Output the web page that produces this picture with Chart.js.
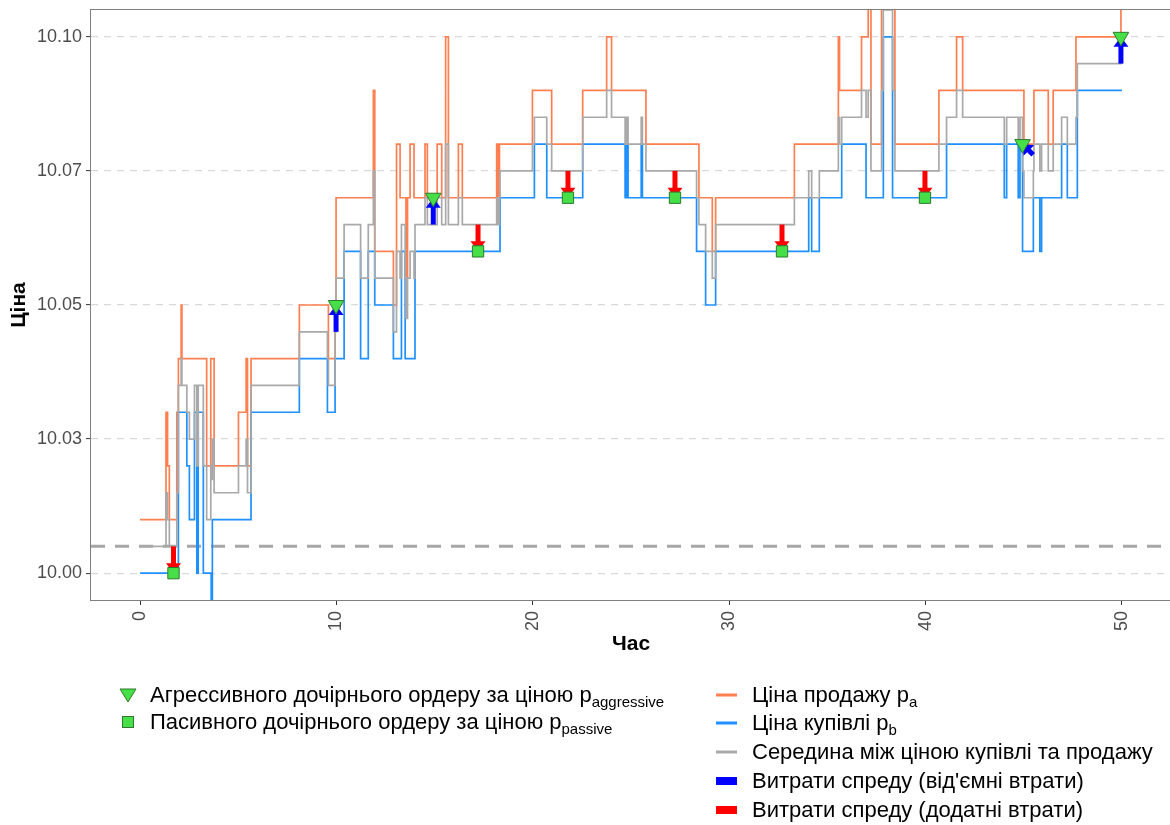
<!DOCTYPE html>
<html>
<head>
<meta charset="utf-8">
<script src="https://cdn.jsdelivr.net/npm/chart.js@4"></script>
<style>
  html, body { margin: 0; padding: 0; background: #ffffff; width: 1170px; height: 825px; overflow: hidden; }
  #wrap { position: relative; width: 1170px; height: 825px; overflow: hidden; }
  #chart { position: absolute; left: 0; top: 0; }
  .row { position: absolute; height: 26px; display: flex; align-items: center; white-space: nowrap;
         font-family: "Liberation Sans", Arial, sans-serif; font-size: 22px; color: #000000; }
  .row svg { flex: none; }
  .row sub { font-size: 15px; vertical-align: -5px; line-height: 0; }
</style>
</head>
<body>
<div id="wrap">
  <canvas id="chart" width="1175" height="825"></canvas>

  <div class="row" style="left:116px; top:682px;">
    <svg width="24" height="26"><polygon points="4,7 20,7 12,20" fill="#47df47" stroke="#2e7a2e" stroke-width="1"/></svg>
    <span style="margin-left:10px;">Агрессивного дочірнього ордеру за ціною p<sub>aggressive</sub></span>
  </div>
  <div class="row" style="left:116px; top:709px;">
    <svg width="24" height="26"><rect x="6.5" y="7.5" width="11" height="11" fill="#47df47" stroke="#2e7a2e" stroke-width="1"/></svg>
    <span style="margin-left:10px;">Пасивного дочірнього ордеру за ціною p<sub>passive</sub></span>
  </div>

  <div class="row" style="left:714px; top:682px;">
    <svg width="26" height="26"><rect x="2" y="11.5" width="21" height="3" fill="#ff7f50"/></svg>
    <span style="margin-left:12px;">Ціна продажу p<sub>a</sub></span>
  </div>
  <div class="row" style="left:714px; top:710px;">
    <svg width="26" height="26"><rect x="2" y="11.5" width="21" height="3" fill="#1e90ff"/></svg>
    <span style="margin-left:12px;">Ціна купівлі p<sub>b</sub></span>
  </div>
  <div class="row" style="left:714px; top:739px;">
    <svg width="26" height="26"><rect x="2" y="11.5" width="21" height="3" fill="#a9a9a9"/></svg>
    <span style="margin-left:12px;">Середина між ціною купівлі та продажу</span>
  </div>
  <div class="row" style="left:714px; top:768px;">
    <svg width="26" height="26"><rect x="2" y="9" width="21" height="8" fill="#0000ff"/></svg>
    <span style="margin-left:12px;">Витрати спреду (від'ємні втрати)</span>
  </div>
  <div class="row" style="left:714px; top:797px;">
    <svg width="26" height="26"><rect x="2" y="9" width="21" height="8" fill="#ff0000"/></svg>
    <span style="margin-left:12px;">Витрати спреду (додатні втрати)</span>
  </div>
</div>

<script>
// Quote updates: each price holds from its time until the next update.
const quoteTime = [
  0.00, 1.32, 1.40, 1.49, 1.87, 1.95, 2.09, 2.13, 2.38, 2.51,
  2.77, 2.89, 2.96, 3.22, 3.39, 3.60, 3.62, 3.68, 3.77, 5.01,
  5.40, 5.47, 5.65, 8.11, 9.54, 9.59, 9.93, 9.98, 10.39, 11.23,
  11.62, 11.88, 11.95, 12.90, 13.06, 13.24, 13.31, 13.50, 13.54, 13.62,
  13.75, 13.95, 14.00, 14.51, 14.63, 15.13, 15.36, 15.56, 15.70, 16.21,
  16.41, 18.16, 18.24, 18.30, 18.33, 19.98, 20.08, 20.71, 20.96, 22.54,
  23.76, 24.01, 24.70, 24.78, 24.85, 25.52, 25.58, 25.76, 28.34, 28.46,
  28.80, 29.14, 29.31, 33.32, 34.05, 34.20, 34.59, 35.56, 35.62, 35.73,
  36.74, 36.97, 37.08, 37.22, 37.76, 37.85, 38.32, 38.44, 40.68, 41.07,
  41.58, 41.89, 44.01, 44.13, 44.72, 44.81, 44.94, 45.01, 45.49, 45.52,
  45.82, 45.91, 46.25, 46.50, 46.93, 47.22, 47.66, 47.73, 49.95, 50.00
];

const askPrice = [
  10.010, 10.030, 10.020, 10.010, 10.030, 10.040, 10.050, 10.040, 10.040, 10.040,
  10.040, 10.040, 10.040, 10.040, 10.020, 10.040, 10.040, 10.040, 10.020, 10.030,
  10.040, 10.020, 10.040, 10.050, 10.050, 10.040, 10.050, 10.070, 10.070, 10.070,
  10.070, 10.090, 10.060, 10.050, 10.080, 10.070, 10.070, 10.070, 10.055, 10.070,
  10.080, 10.070, 10.070, 10.080, 10.070, 10.080, 10.070, 10.100, 10.070, 10.080,
  10.070, 10.080, 10.070, 10.080, 10.080, 10.090, 10.090, 10.090, 10.080, 10.090,
  10.100, 10.090, 10.090, 10.090, 10.090, 10.090, 10.090, 10.080, 10.080, 10.070,
  10.070, 10.060, 10.070, 10.080, 10.080, 10.080, 10.080, 10.100, 10.090, 10.090,
  10.100, 10.100, 10.110, 10.080, 10.110, 10.110, 10.110, 10.080, 10.090, 10.090,
  10.100, 10.090, 10.090, 10.090, 10.090, 10.090, 10.090, 10.080, 10.080, 10.090,
  10.090, 10.090, 10.080, 10.090, 10.090, 10.090, 10.100, 10.100, 10.110, 10.110
];

const bidPrice = [
  10.000, 10.000, 10.000, 10.000, 10.000, 10.030, 10.030, 10.030, 10.020, 10.010,
  10.030, 10.000, 10.030, 10.000, 10.000, 10.000, 9.995, 10.010, 10.010, 10.010,
  10.010, 10.010, 10.030, 10.040, 10.030, 10.030, 10.040, 10.040, 10.060, 10.040,
  10.060, 10.060, 10.050, 10.040, 10.040, 10.040, 10.060, 10.040, 10.040, 10.040,
  10.040, 10.040, 10.060, 10.060, 10.060, 10.060, 10.060, 10.060, 10.060, 10.060,
  10.060, 10.060, 10.060, 10.060, 10.070, 10.070, 10.080, 10.070, 10.070, 10.080,
  10.080, 10.080, 10.070, 10.080, 10.070, 10.080, 10.070, 10.070, 10.060, 10.060,
  10.050, 10.050, 10.060, 10.060, 10.070, 10.060, 10.070, 10.070, 10.070, 10.080,
  10.080, 10.070, 10.070, 10.070, 10.070, 10.100, 10.070, 10.070, 10.070, 10.080,
  10.080, 10.080, 10.070, 10.080, 10.070, 10.080, 10.060, 10.060, 10.070, 10.070,
  10.060, 10.070, 10.070, 10.070, 10.080, 10.070, 10.070, 10.090, 10.090, 10.090
];

const midPrice = [
  10.005, 10.015, 10.010, 10.005, 10.015, 10.035, 10.040, 10.035, 10.030, 10.025,
  10.035, 10.020, 10.035, 10.020, 10.010, 10.020, 10.0175, 10.025, 10.015, 10.020,
  10.025, 10.015, 10.035, 10.045, 10.040, 10.035, 10.045, 10.055, 10.065, 10.055,
  10.065, 10.075, 10.055, 10.045, 10.060, 10.055, 10.065, 10.055, 10.0475, 10.055,
  10.060, 10.055, 10.065, 10.070, 10.065, 10.070, 10.065, 10.080, 10.065, 10.070,
  10.065, 10.070, 10.065, 10.070, 10.075, 10.080, 10.085, 10.080, 10.075, 10.085,
  10.090, 10.085, 10.080, 10.085, 10.080, 10.085, 10.080, 10.075, 10.070, 10.065,
  10.060, 10.055, 10.065, 10.070, 10.075, 10.070, 10.075, 10.085, 10.080, 10.085,
  10.090, 10.085, 10.090, 10.075, 10.090, 10.105, 10.090, 10.075, 10.080, 10.085,
  10.090, 10.085, 10.080, 10.085, 10.080, 10.085, 10.075, 10.070, 10.075, 10.080,
  10.075, 10.080, 10.075, 10.080, 10.085, 10.080, 10.085, 10.095, 10.100, 10.100
];

// Mid price at the start of the session (reference line)
const openingMid = 10.005;

// Aggressive child orders: fill price and the mid price the cost is measured from
const aggressiveTime = [9.98, 14.93, 44.94, 49.95];
const aggressivePrice = [10.050, 10.070, 10.080, 10.100];
const aggressiveMidTime = [9.98, 14.93, 45.48, 49.95];
const aggressiveMid = [10.045, 10.065, 10.078, 10.095];

// Passive child orders
const passiveTime = [1.70, 17.21, 21.79, 27.24, 32.69, 39.97];
const passivePrice = [10.000, 10.060, 10.070, 10.070, 10.060, 10.070];
const passiveMid = [10.005, 10.065, 10.075, 10.075, 10.065, 10.075];

// Axis ticks
const xTicks = [0, 10, 20, 30, 40, 50];
const yTicks = [10.000, 10.025, 10.050, 10.075, 10.100];
const yTickLabels = ['10.00', '10.03', '10.05', '10.07', '10.10'];

const X_MIN = -2.5, X_MAX = 52.5, Y_MIN = 9.995, Y_MAX = 10.105;
const FONT = '"Liberation Sans", Arial, sans-serif';

const series = (xs, ys) => xs.map((x, i) => ({ x: x, y: ys[i] }));

function drawArrow(ctx, x0, y0, x1, y1, color) {
  const dx = x1 - x0, dy = y1 - y0;
  const len = Math.hypot(dx, dy);
  if (len < 0.5) return;
  const ux = dx / len, uy = dy / len;
  const head = Math.min(10, len * 0.6);
  const half = 7.5;
  const bx = x1 - ux * head, by = y1 - uy * head;
  ctx.strokeStyle = color;
  ctx.fillStyle = color;
  ctx.lineWidth = 5;
  ctx.lineCap = 'butt';
  ctx.beginPath();
  ctx.moveTo(x0, y0);
  ctx.lineTo(bx + ux * 1, by + uy * 1);
  ctx.stroke();
  ctx.beginPath();
  ctx.moveTo(x1, y1);
  ctx.lineTo(bx - uy * half, by + ux * half);
  ctx.lineTo(bx + uy * half, by - ux * half);
  ctx.closePath();
  ctx.fill();
}

// Spread-cost arrows from the mid price to the fill price, drawn under the order markers
const spreadCostArrows = {
  id: 'spreadCostArrows',
  beforeDatasetDraw(chart, args) {
    if (args.index !== 1) return;
    const { ctx, chartArea: a, scales: { x, y } } = chart;
    ctx.save();
    ctx.beginPath();
    ctx.rect(a.left, a.top, a.right - a.left, a.bottom - a.top);
    ctx.clip();
    passiveTime.forEach((t, i) => {
      const color = passivePrice[i] < passiveMid[i] ? '#ff0000' : '#0000ff';
      drawArrow(ctx, x.getPixelForValue(t), y.getPixelForValue(passiveMid[i]),
                x.getPixelForValue(t), y.getPixelForValue(passivePrice[i]), color);
    });
    aggressiveTime.forEach((t, i) => {
      const color = aggressivePrice[i] < aggressiveMid[i] ? '#ff0000' : '#0000ff';
      drawArrow(ctx, x.getPixelForValue(aggressiveMidTime[i]), y.getPixelForValue(aggressiveMid[i]),
                x.getPixelForValue(t), y.getPixelForValue(aggressivePrice[i]), color);
    });
    ctx.restore();
  }
};

// Grey frame around the plotting panel
const panelFrame = {
  id: 'panelFrame',
  afterDatasetsDraw(chart) {
    const { ctx, chartArea: a } = chart;
    ctx.save();
    ctx.strokeStyle = '#7f7f7f';
    ctx.lineWidth = 1;
    ctx.strokeRect(Math.round(a.left) - 0.5, Math.round(a.top) - 0.5,
                   Math.round(a.right - a.left), Math.round(a.bottom - a.top) + 1);
    ctx.restore();
  }
};

// Keep the axes from reserving extra room for overhanging labels
const noOverhang = s => { s.paddingTop = 0; s.paddingBottom = 0; s.paddingLeft = 0; s.paddingRight = 0; };

new Chart(document.getElementById('chart'), {
  type: 'scatter',
  data: {
    datasets: [
      {
        label: 'aggressive',
        data: series(aggressiveTime, aggressivePrice),
        pointStyle: 'triangle',
        rotation: 180,
        pointRadius: 9,
        backgroundColor: '#47df47',
        borderColor: '#2e7a2e',
        borderWidth: 1,
        order: 0
      },
      {
        label: 'passive',
        data: series(passiveTime, passivePrice),
        pointStyle: 'rect',
        pointRadius: 8,
        backgroundColor: '#47df47',
        borderColor: '#2e7a2e',
        borderWidth: 1,
        order: 1
      },
      {
        label: 'mid',
        data: series(quoteTime, midPrice),
        showLine: true,
        stepped: 'before',
        borderColor: '#a9a9a9',
        borderWidth: 1.7,
        pointRadius: 0,
        order: 2
      },
      {
        label: 'bid',
        data: series(quoteTime, bidPrice),
        showLine: true,
        stepped: 'before',
        borderColor: '#1e90ff',
        borderWidth: 1.7,
        pointRadius: 0,
        order: 3
      },
      {
        label: 'ask',
        data: series(quoteTime, askPrice),
        showLine: true,
        stepped: 'before',
        borderColor: '#ff7f50',
        borderWidth: 1.7,
        pointRadius: 0,
        order: 4
      },
      {
        label: 'opening mid',
        data: [{ x: X_MIN, y: openingMid }, { x: X_MAX, y: openingMid }],
        showLine: true,
        borderColor: '#a6a6a6',
        borderWidth: 3,
        borderDash: [14, 10],
        pointRadius: 0,
        order: 5
      }
    ]
  },
  options: {
    responsive: false,
    animation: false,
    devicePixelRatio: 1,
    layout: { autoPadding: false, padding: { left: 0, right: 4, top: 10, bottom: 165 } },
    plugins: { legend: { display: false }, tooltip: { enabled: false } },
    scales: {
      x: {
        type: 'linear',
        min: X_MIN,
        max: X_MAX,
        afterBuildTicks: s => { s.ticks = xTicks.map(v => ({ value: v })); },
        afterFit: s => { s.height = 60; noOverhang(s); },
        ticks: {
          minRotation: 90, maxRotation: 90, padding: 6,
          color: '#4d4d4d', font: { family: FONT, size: 18 },
          callback: v => String(v)
        },
        grid: { drawOnChartArea: false, drawTicks: true, tickLength: 5, tickColor: '#333333', tickWidth: 1 },
        border: { display: false },
        title: {
          display: true, text: 'Час', color: '#000000',
          font: { family: FONT, size: 21, weight: 'bold' },
          padding: { top: 0, bottom: 3 }
        }
      },
      y: {
        type: 'linear',
        min: Y_MIN,
        max: Y_MAX,
        afterBuildTicks: s => { s.ticks = yTicks.map(v => ({ value: v })); },
        afterFit: s => { s.width = 91; noOverhang(s); },
        ticks: {
          padding: 4, color: '#4d4d4d', font: { family: FONT, size: 18 },
          callback: (v, i) => yTickLabels[i]
        },
        grid: { color: '#d9d9d9', lineWidth: 1.2, drawTicks: true, tickLength: 5, tickColor: '#333333', tickWidth: 1, tickBorderDash: [] },
        border: { display: false, dash: [7, 6] },
        title: {
          display: true, text: 'Ціна', color: '#000000',
          font: { family: FONT, size: 21, weight: 'bold' },
          padding: { top: 7, bottom: 0 }
        }
      }
    }
  },
  plugins: [spreadCostArrows, panelFrame]
});
</script>
</body>
</html>
